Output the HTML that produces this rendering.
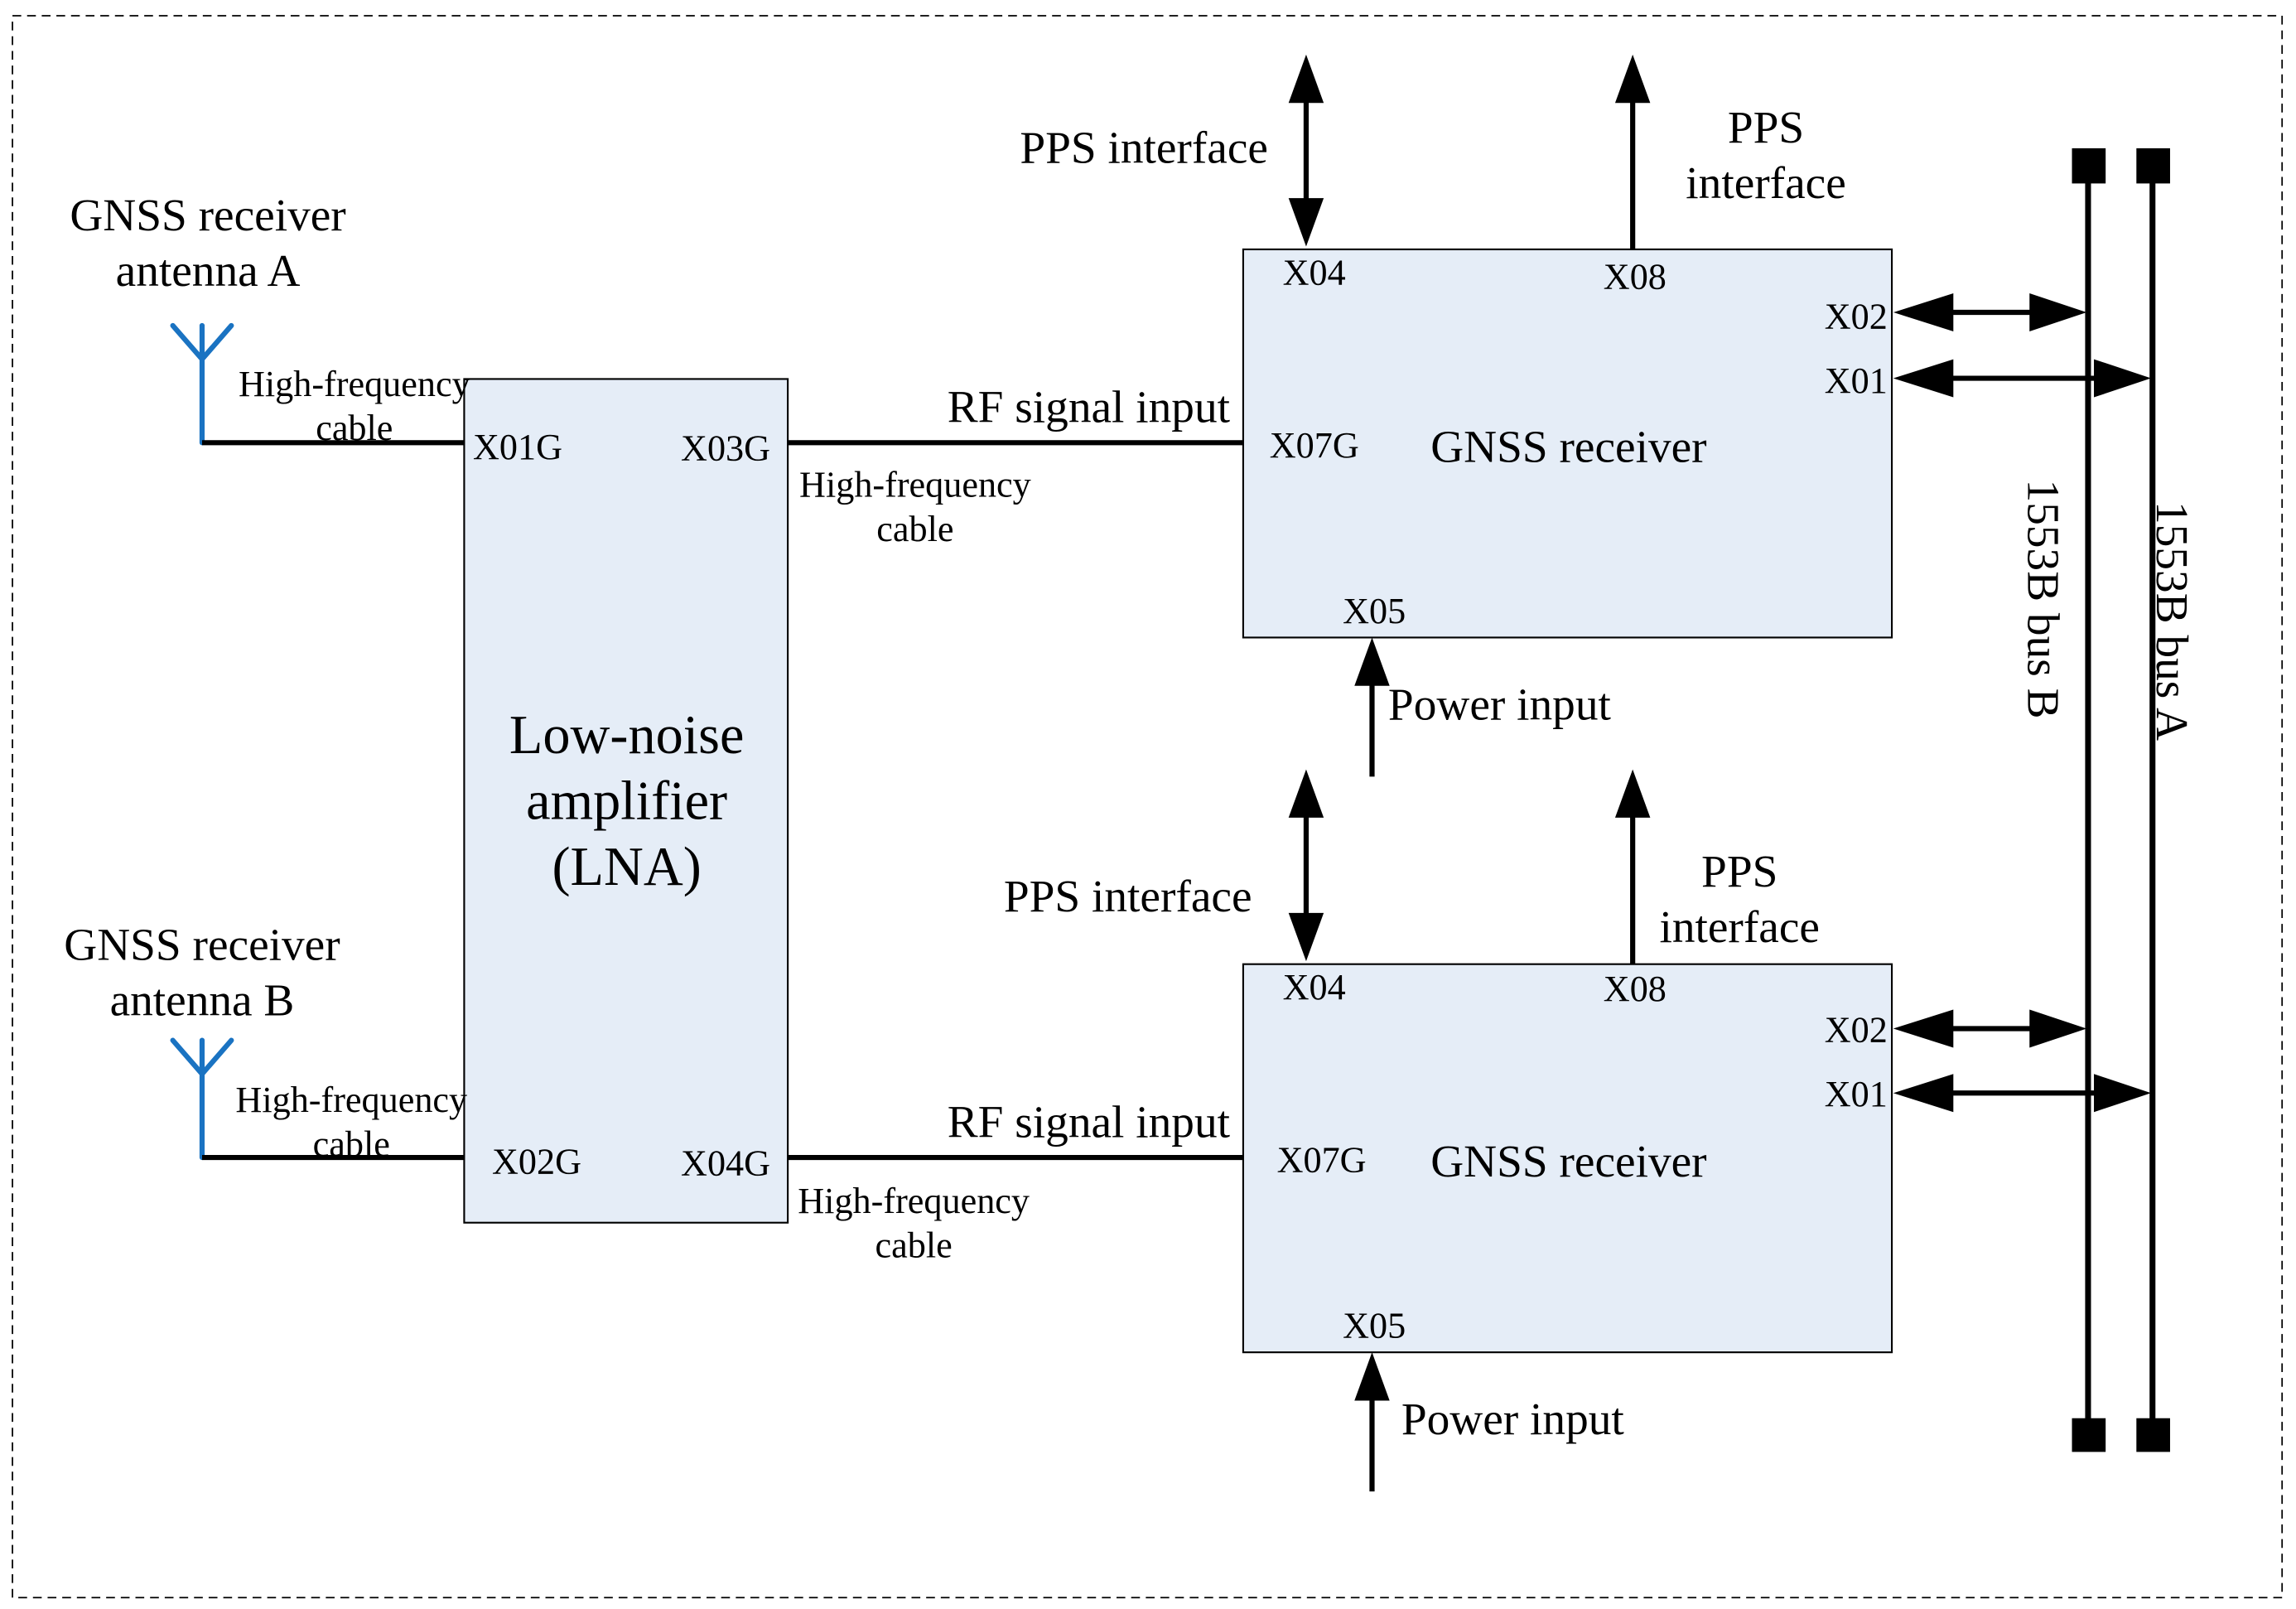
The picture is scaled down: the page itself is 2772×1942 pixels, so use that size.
<!DOCTYPE html>
<html><head><meta charset="utf-8"><style>html,body{margin:0;padding:0;background:#fff}svg{display:block}</style></head><body>
<svg xmlns="http://www.w3.org/2000/svg" width="2772" height="1942" viewBox="0 0 1568 1098" font-family="Liberation Serif, serif" fill="#000">
<rect x="8.5" y="10.5" width="1550" height="1080" fill="none" stroke="#000" stroke-width="1" stroke-dasharray="6,4"/>

<g stroke="#1a73c2" stroke-width="3.5" fill="none" stroke-linecap="round">
<path d="M118 222 L138 245 L158 222 M138 222 L138 302"/>
<path d="M118 710 L138 733 L158 710 M138 710 L138 790"/>
</g>
<g stroke="#000" stroke-width="3.5">
<line x1="138" y1="302" x2="318" y2="302"/>
<line x1="138" y1="790" x2="318" y2="790"/>
<line x1="538" y1="302" x2="850" y2="302"/>
<line x1="538" y1="790" x2="850" y2="790"/>
</g>

<rect x="317" y="258.5" width="221" height="576" fill="#e5edf7" stroke="#000" stroke-width="1.2"/>
<rect x="849" y="170" width="443" height="265" fill="#e5edf7" stroke="#000" stroke-width="1.2"/>
<rect x="849" y="658" width="443" height="265" fill="#e5edf7" stroke="#000" stroke-width="1.2"/>

<g stroke="#000" stroke-width="4">
<line x1="1426" y1="113" x2="1426" y2="980"/>
<line x1="1470" y1="113" x2="1470" y2="980"/>
</g>
<rect x="1415" y="101" width="23" height="24"/>
<rect x="1459" y="101" width="23" height="24"/>
<rect x="1415" y="968" width="23" height="23"/>
<rect x="1459" y="968" width="23" height="23"/>

<g stroke="#000" stroke-width="3.5">
<line x1="892" y1="55" x2="892" y2="150"/>
<line x1="1115" y1="170" x2="1115" y2="55"/>
<line x1="892" y1="543" x2="892" y2="638"/>
<line x1="1115" y1="658" x2="1115" y2="543"/>
<line x1="1310" y1="213" x2="1405" y2="213"/>
<line x1="1310" y1="258" x2="1450" y2="258"/>
<line x1="1310" y1="702" x2="1405" y2="702"/>
<line x1="1310" y1="746" x2="1450" y2="746"/>
<line x1="937" y1="530" x2="937" y2="455"/>
<line x1="937" y1="1018" x2="937" y2="943"/>
</g>
<g>
<polygon points="892,37 880,70 904,70"/><polygon points="892,168 880,135 904,135"/>
<polygon points="1115,37 1103,70 1127,70"/>
<polygon points="892,525 880,558 904,558"/><polygon points="892,656 880,623 904,623"/>
<polygon points="1115,525 1103,558 1127,558"/>
<polygon points="937,435 925,468 949,468"/>
<polygon points="937,923 925,956 949,956"/>
<polygon points="1293,213 1334,200 1334,226"/><polygon points="1425,213 1386,200 1386,226"/>
<polygon points="1293,258 1334,245 1334,271"/><polygon points="1469,258 1430,245 1430,271"/>
<polygon points="1293,702 1334,689 1334,715"/><polygon points="1425,702 1386,689 1386,715"/>
<polygon points="1293,746 1334,733 1334,759"/><polygon points="1469,746 1430,733 1430,759"/>
</g>

<g font-size="31.3">
<text x="142" y="157" text-anchor="middle">GNSS receiver</text>
<text x="142" y="195" text-anchor="middle">antenna A</text>
<text x="138" y="655" text-anchor="middle">GNSS receiver</text>
<text x="138" y="693" text-anchor="middle">antenna B</text>
<text x="866" y="111" text-anchor="end">PPS interface</text>
<text x="1206" y="97" text-anchor="middle">PPS</text>
<text x="1206" y="135" text-anchor="middle">interface</text>
<text x="855" y="622" text-anchor="end">PPS interface</text>
<text x="1188" y="605" text-anchor="middle">PPS</text>
<text x="1188" y="643" text-anchor="middle">interface</text>
<text x="840" y="288" text-anchor="end">RF signal input</text>
<text x="840" y="776" text-anchor="end">RF signal input</text>
<text x="977" y="315">GNSS receiver</text>
<text x="977" y="803">GNSS receiver</text>
<text x="948" y="491">Power input</text>
<text x="957" y="979">Power input</text>
<text transform="translate(1385,327) rotate(90)">1553B bus B</text>
<text transform="translate(1473,342) rotate(90)">1553B bus A</text>
</g>
<g font-size="37.5" text-anchor="middle">
<text x="428" y="514">Low-noise</text>
<text x="428" y="559">amplifier</text>
<text x="428" y="604">(LNA)</text>
</g>
<g font-size="25">
<text x="242" y="270" text-anchor="middle">High-frequency</text>
<text x="242" y="300" text-anchor="middle">cable</text>
<text x="240" y="759" text-anchor="middle">High-frequency</text>
<text x="240" y="789" text-anchor="middle">cable</text>
<text x="625" y="339" text-anchor="middle">High-frequency</text>
<text x="625" y="369" text-anchor="middle">cable</text>
<text x="624" y="828" text-anchor="middle">High-frequency</text>
<text x="624" y="858" text-anchor="middle">cable</text>
<text x="323" y="313">X01G</text>
<text x="465" y="314">X03G</text>
<text x="336" y="801">X02G</text>
<text x="465" y="802">X04G</text>
<text x="867" y="312">X07G</text>
<text x="872" y="800">X07G</text>
<text x="876" y="194">X04</text>
<text x="1095" y="197">X08</text>
<text x="1246" y="224">X02</text>
<text x="1246" y="268">X01</text>
<text x="917" y="425">X05</text>
<text x="876" y="682">X04</text>
<text x="1095" y="683">X08</text>
<text x="1246" y="711">X02</text>
<text x="1246" y="755">X01</text>
<text x="917" y="913">X05</text>
</g>
</svg>
</body></html>
